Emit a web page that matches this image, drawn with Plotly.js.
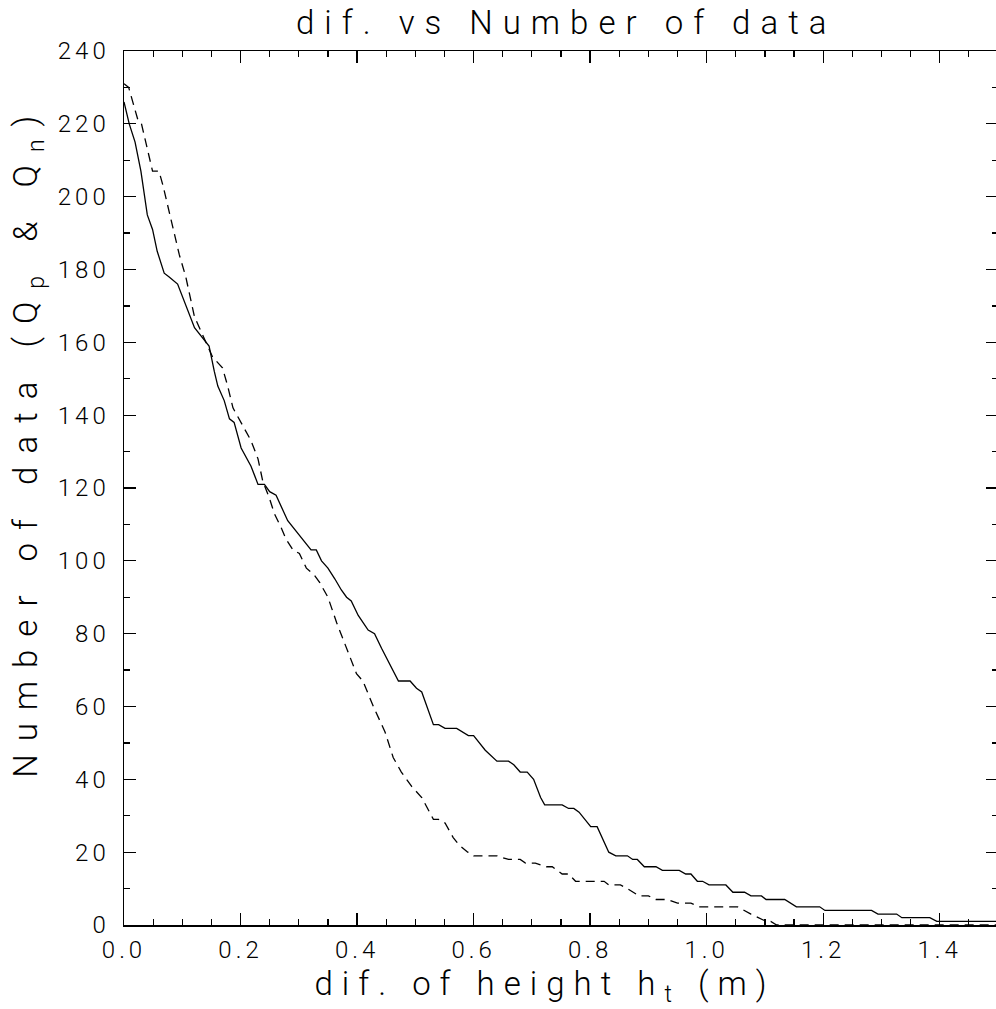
<!DOCTYPE html>
<html>
<head>
<meta charset="utf-8">
<script src="https://cdn.plot.ly/plotly-3.0.1.min.js"></script>
<style>
html, body { margin:0; padding:0; overflow:hidden; background:#fff; }
#chart { width:1000px; height:1009px; }
.gtitle { letter-spacing: 10px; }
.annotation[data-index="0"] .annotation-text { letter-spacing: 9px; }
.annotation[data-index="1"] .annotation-text { letter-spacing: 13px; }
.xtick text, .ytick text { letter-spacing: 4px; }
</style>
</head>
<body>
<div id="chart"></div>
<script>
// Solid curve (Q_p)
const solidX = [0.000,0.009,0.019,0.029,0.040,0.049,0.057,0.069,0.077,0.092,0.121,0.141,0.146,0.155,0.161,0.172,0.181,0.189,0.201,0.218,0.230,0.241,0.250,0.261,0.270,0.281,0.321,0.330,0.339,0.350,0.362,0.373,0.382,0.390,0.402,0.419,0.430,0.442,0.471,0.491,0.502,0.511,0.531,0.540,0.551,0.571,0.591,0.600,0.620,0.640,0.660,0.669,0.680,0.692,0.703,0.715,0.722,0.752,0.763,0.772,0.781,0.801,0.812,0.821,0.832,0.844,0.864,0.873,0.881,0.893,0.913,0.924,0.953,0.964,0.973,0.984,0.993,1.004,1.033,1.045,1.065,1.076,1.094,1.102,1.134,1.154,1.194,1.203,1.283,1.294,1.326,1.335,1.383,1.395,1.500];
const solidY = [226,220,215,207,195,191,185,179,178,176,164,160,159,152,148,144,139,138,131,126,121,121,119,118,115,111,103,103,100,98,95,92,90,89,85,81,80,76,67,67,65,64,55,55,54,54,52,52,48,45,45,44,42,42,40,35,33,33,32,32,31,27,27,24,20,19,19,18,18,16,16,15,15,14,14,12,12,11,11,9,9,8,8,7,7,5,5,4,4,3,3,2,2,1,1];
// Dashed curve (Q_n)
const dashX = [0.000,0.008,0.024,0.030,0.049,0.060,0.067,0.095,0.106,0.121,0.135,0.152,0.169,0.178,0.187,0.204,0.218,0.230,0.238,0.250,0.258,0.270,0.278,0.290,0.301,0.313,0.327,0.336,0.350,0.365,0.382,0.399,0.410,0.428,0.448,0.462,0.476,0.494,0.511,0.531,0.540,0.551,0.565,0.575,0.590,0.600,0.640,0.660,0.680,0.689,0.706,0.725,0.735,0.752,0.763,0.775,0.824,0.832,0.852,0.864,0.884,0.900,0.913,0.933,0.950,0.973,0.987,1.053,1.076,1.102,1.110,1.120,1.500];
const dashY = [231,230,221,220,207,207,203,184,178,167,162,156,153,148,142,137,133,128,122,117,113,109,106,103,102,98,96,94,90,83,76,69,67,60,53,46,42,38,35,29,29,28,24,22,20,19,19,18,18,17,17,16,16,14,14,12,12,11,11,10,8,8,7,7,6,6,5,5,3,1,1,0,0];

const titleText = 'dif. vs Number of data';
const xTitleText = 'dif. of height h<sub>t</sub> (m)';
const yTitleText = 'Number of data (Q<sub>p</sub> &amp; Q<sub>n</sub>)';

const FONT = 'Roboto, "DejaVu Sans", sans-serif';

const traces = [
  {x: solidX, y: solidY, type:'scatter', mode:'lines', line:{color:'#000', width:1.3}, showlegend:false, hoverinfo:'skip'},
  {x: dashX, y: dashY, type:'scatter', mode:'lines', line:{color:'#000', width:1.3, dash:'9px,6px'}, showlegend:false, hoverinfo:'skip'}
];

const axisCommon = {
  showgrid:false, zeroline:false, showline:true, linecolor:'#000', linewidth:1.5,
  mirror:'ticks', ticks:'inside', ticklen:12, tickwidth:1.3, tickcolor:'#000',
  tickfont:{family:FONT, size:24, color:'#000', weight:300}
};

const layout = {
  width:1000, height:1009,
  margin:{l:124, r:2, t:51, b:84},
  paper_bgcolor:'#fff', plot_bgcolor:'#fff',
  title:{text:titleText, font:{family:FONT, size:33, color:'#000', weight:300}, x:0.506, xref:'paper', xanchor:'center', y:0.978, yref:'container', yanchor:'middle'},
  xaxis: Object.assign({}, axisCommon, {range:[0,1.5], tick0:0, dtick:0.2, tickformat:'.1f', ticklabelstandoff:3,
    minor:{dtick:0.05, ticks:'inside', ticklen:6, tickwidth:1.2, tickcolor:'#000', showgrid:false}}),
  yaxis: Object.assign({}, axisCommon, {range:[0,240], tick0:0, dtick:20, ticklabelstandoff:8,
    minor:{dtick:10, ticks:'inside', ticklen:6, tickwidth:1.2, tickcolor:'#000', showgrid:false}}),
  annotations:[
    {text:xTitleText, xref:'paper', yref:'paper', x:0.482, y:-0.07, xanchor:'center', yanchor:'middle', showarrow:false,
     font:{family:FONT, size:33, color:'#000', weight:300}},
    {text:yTitleText, xref:'paper', yref:'paper', x:-0.11, y:0.555, xanchor:'center', yanchor:'middle', textangle:-90, showarrow:false,
     font:{family:FONT, size:33, color:'#000', weight:300}}
  ]
};

Plotly.newPlot('chart', traces, layout, {displayModeBar:false, staticPlot:true});
</script>
</body>
</html>
